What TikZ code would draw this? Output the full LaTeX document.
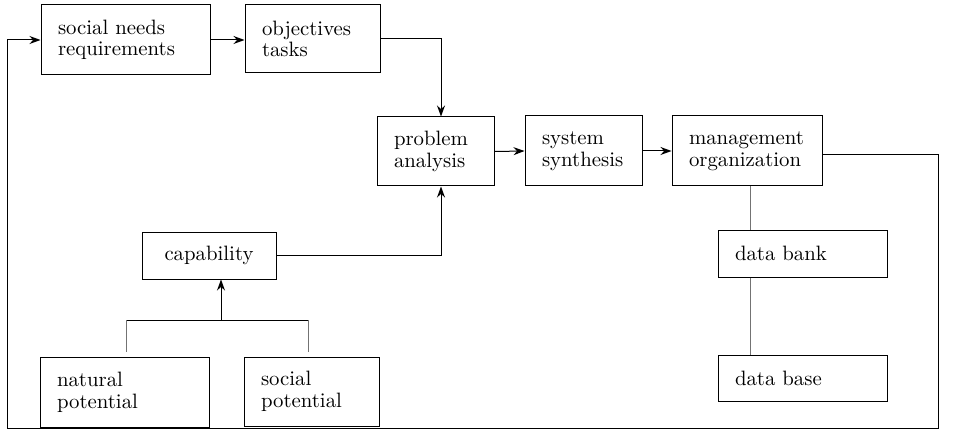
\documentclass[tikz,border=0pt]{standalone}
\usetikzlibrary{arrows.meta}
\begin{document}
\begin{tikzpicture}[x=0.5pt,y=-0.5pt,
  box/.style={draw, line width=0.5pt, align=left, inner xsep=8.5pt, inner ysep=0pt,
    font=\fontsize{10.4}{10.8}\selectfont},
  conn/.style={line width=0.5pt},
  arr/.style={line width=0.5pt, -{Stealth[length=5.5pt,width=4pt]}},
  faint/.style={line width=0.4pt, black!55}]
\useasboundingbox (0,0) rectangle (957,443);
% nodes
\node[box, text width=67.5pt, minimum height=35pt] (sn) at (125.5,40) {social needs\\requirements};
\node[box, text width=50.5pt, minimum height=34pt] (ot) at (312.5,39) {objectives\\tasks};
\node[box, text width=41.5pt, minimum height=34.5pt] (pa) at (435.5,151.5) {problem\\analysis};
\node[box, text width=41.5pt, minimum height=35pt] (ss) at (583.5,151) {system\\synthesis};
\node[box, text width=58pt, minimum height=35pt] (mo) at (747,151) {management\\organization};
\node[box, text width=50pt, minimum height=23.5pt, align=center] (cap) at (209,255.5) {capability};
\node[box, text width=67.5pt, minimum height=23.5pt] (db) at (802.5,253.5) {data bank};
\node[box, text width=67.5pt, minimum height=23pt] (dbase) at (802.5,378) {data base};
\node[box, text width=67.5pt, minimum height=35pt] (np) at (124.5,392) {natural\\potential};
\node[box, text width=50.5pt, minimum height=34.5pt] (sp) at (311.5,391.5) {social\\potential};
% coordinates
\coordinate (loopR) at (938,428);
\coordinate (loopL) at (7,428);
\coordinate (barL) at (126,320);
\coordinate (barR) at (308,320);
\coordinate (barM) at (221,320);
\coordinate (vx) at (750,0);
\coordinate (px) at (441,0);
% connectors
\draw[arr] ([yshift=-2pt]mo.east) -| (loopR) -- (loopL) |- (sn.west);
\draw[arr] (sn.east) -- (sn.east -| ot.west);
\draw[arr] (ot.east) -| (px |- pa.north);
\draw[arr] (cap.east) -| (px |- pa.south);
\draw[arr] (pa.east) -- (ss.west);
\draw[arr] (ss.east) -- (mo.west);
\draw[conn] (barL) -- (barR);
\draw[arr] (barM) -- (barM |- cap.south);
\draw[faint] (barL) -- ([yshift=2.5pt]barL |- np.north);
\draw[faint] (barR) -- ([yshift=2.5pt]barR |- sp.north);
\draw[faint] (vx |- mo.south) -- (vx |- db.north);
\draw[faint] (vx |- db.south) -- (vx |- dbase.north);
\end{tikzpicture}
\end{document}
